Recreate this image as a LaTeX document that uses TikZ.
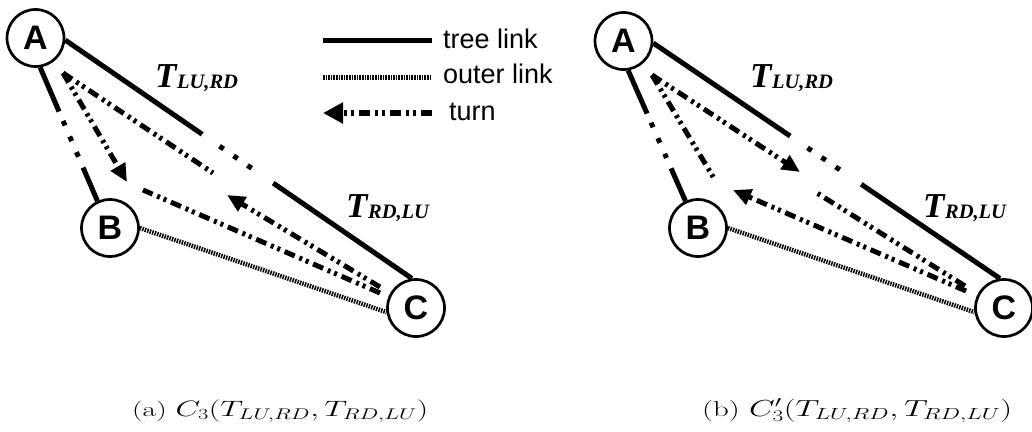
\documentclass[tikz,border=0pt]{standalone}
\usepackage{fontspec}
\usepackage{graphicx}
\newfontfamily\sansfam{Liberation Sans}
\newfontfamily\seriffam{Liberation Serif}
\usetikzlibrary{arrows.meta,calc}

% font helpers
\newcommand\vertexfont{\sansfam\bfseries\fontsize{34}{34}\selectfont}
\newcommand\legendfont{\sansfam\fontsize{27}{27}\selectfont}
\newcommand\tbig{\seriffam\bfseries\itshape\fontsize{35}{35}\selectfont}
\newcommand\tsmall{\seriffam\bfseries\itshape\fontsize{20.5}{20.5}\selectfont}
\newcommand\treelabel[1]{{\tbig T}\kern0.5pt\raisebox{-1pt}{\tsmall #1}}

\tikzset{
  vertex/.style={circle, draw, line width=2.7pt, minimum size=57pt, inner sep=0pt, font=\vertexfont},
  treelink/.style={line width=5pt},
  gapdots/.style={line width=5pt, dash pattern=on 5pt off 12pt},
  outerlink/.style={line width=4.5pt, dash pattern=on 1.5pt off 1.1pt},
  turnline/.style={line width=5pt, dash pattern=on 11pt off 5pt on 3pt off 4pt on 3pt off 5pt},
  turnhead/.style={-{Triangle[length=18pt,width=16pt]}},
  legtext/.style={font=\legendfont, anchor=base west, inner sep=0pt},
  tlabel/.style={anchor=base west, inner sep=0pt},
  caption/.style={anchor=base west, inner sep=0pt, font=\fontsize{23}{26}\selectfont},
}

\begin{document}
\begin{tikzpicture}[x=1pt, y=-1pt]
\useasboundingbox (0,0) rectangle (1032,431);

% ---------------- panel (a) ----------------
\node[vertex] (A) at (35.5,38) {A};
\node[vertex] (B) at (110,228) {B};
\node[vertex] (C) at (416,308) {C};

% tree link A--C, broken in the middle
\draw[treelink] (A.-4) -- ($(A.-4)!0.395!(C.98)$);
\draw[gapdots] ($(A.-4)!0.445!(C.98)$) -- ($(A.-4)!0.56!(C.98)$);
\draw[treelink] ($(A.-4)!0.60!(C.98)$) -- (C.98);
% tree link A--B, broken in the middle
\draw[treelink] (A.-81) -- ($(A.-81)!0.33!(B.115)$);
\draw[gapdots] ($(A.-81)!0.40!(B.115)$) -- ($(A.-81)!0.67!(B.115)$);
\draw[treelink] ($(A.-81)!0.75!(B.115)$) -- (B.115);
% outer link B--C
\draw[outerlink] (B.east) -- (C.188);

% turns
\coordinate (a1) at (63,73);
\coordinate (a2) at (127,182);
\coordinate (a3) at (213,173);
\coordinate (a4) at (143,190);
\coordinate (a5) at (380,293);
\coordinate (a6) at (380,287);
\coordinate (a7) at (227,195);
\draw[turnline, turnhead] (a1) -- (a2);
\draw[turnline] (a1) -- (a3);
\draw[turnline] (a5) -- (a4);
\draw[turnline, turnhead] (a6) -- (a7);

\node[tlabel] (la1) at (155,87) {\treelabel{LU,RD}};
\node[tlabel] (la2) at (346,217) {\treelabel{RD,LU}};

\node[caption] (capa) at (132,416) {\resizebox*{296pt}{23pt}{(a) $C_3(T_{LU,RD},T_{RD,LU})$}};

% ---------------- panel (b) ----------------
\node[vertex] (A2) at (623.5,41) {A};
\node[vertex] (B2) at (698,228) {B};
\node[vertex] (C2) at (1004,308) {C};

\draw[treelink] (A2.-4) -- ($(A2.-4)!0.395!(C2.98)$);
\draw[gapdots] ($(A2.-4)!0.445!(C2.98)$) -- ($(A2.-4)!0.56!(C2.98)$);
\draw[treelink] ($(A2.-4)!0.60!(C2.98)$) -- (C2.98);
\draw[treelink] (A2.-81) -- ($(A2.-81)!0.33!(B2.115)$);
\draw[gapdots] ($(A2.-81)!0.40!(B2.115)$) -- ($(A2.-81)!0.67!(B2.115)$);
\draw[treelink] ($(A2.-81)!0.75!(B2.115)$) -- (B2.115);
\draw[outerlink] (B2.east) -- (C2.188);

\coordinate (b1) at (652,75);
\coordinate (b2) at (715,180);
\coordinate (b3) at (800,172);
\coordinate (b4) at (733,190);
\coordinate (b5) at (966,291);
\coordinate (b6) at (965,286);
\coordinate (b7) at (817,193);
\draw[turnline] (b1) -- (b2);
\draw[turnline, turnhead] (b1) -- (b3);
\draw[turnline, turnhead] (b5) -- (b4);
\draw[turnline] (b6) -- (b7);

\node[tlabel] (lb1) at (750,87) {\treelabel{LU,RD}};
\node[tlabel] (lb2) at (923,217) {\treelabel{RD,LU}};

\node[caption] (capb) at (702,416) {\resizebox*{310pt}{24pt}{(b) $C_3'(T_{LU,RD},T_{RD,LU})$}};

% ---------------- legend ----------------
\coordinate (lt1) at (323,40);
\coordinate (lt2) at (432,40);
\coordinate (lo1) at (323,77);
\coordinate (lo2) at (432,77);
\coordinate (lu1) at (323,113);
\coordinate (lu2) at (432,113);
\draw[treelink] (lt1) -- (lt2);
\draw[outerlink, line width=5pt] (lo1) -- (lo2);
\draw[turnline, line width=6pt, -{Triangle[length=20pt,width=20pt]}] (lu2) -- (lu1);
\node[legtext] (ltree) at (443,48) {tree link};
\node[legtext] (louter) at (443,83) {outer link};
\node[legtext] (lturn) at (449,120) {turn};
\end{tikzpicture}
\end{document}
